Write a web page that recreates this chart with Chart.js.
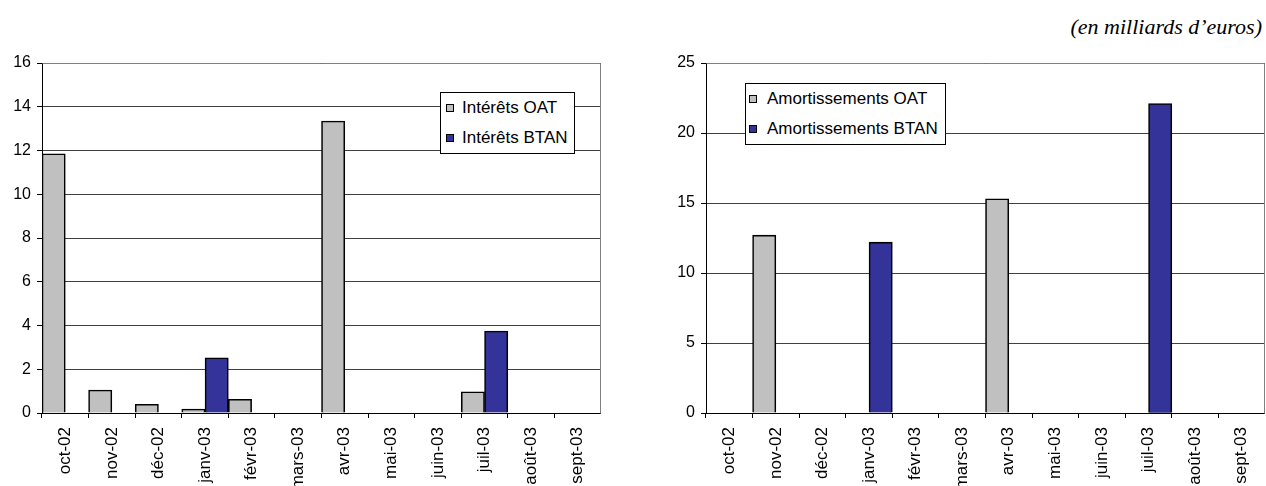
<!DOCTYPE html>
<html lang="fr">
<head>
<meta charset="utf-8">
<script src="https://cdn.jsdelivr.net/npm/chart.js@4/dist/chart.umd.min.js"></script>
<style>
  body { margin: 0; background: #fff; }
  #page { position: relative; width: 1266px; height: 486px; overflow: hidden; background: #fff; }
  .panel { position: absolute; top: 0; }
  .unite {
    position: absolute; right: 4px; top: 14px;
    font: italic 22px "Liberation Serif", "Times New Roman", serif; line-height: 26px;
  }
  .legend {
    position: absolute; box-sizing: border-box; background: #fff; border: 1px solid #000;
    font: 17px "Liberation Sans", Arial, sans-serif; color: #000;
  }
  .legend .item { height: 30px; display: flex; align-items: center; white-space: nowrap; }
  .legend .swatch { display: inline-block; box-sizing: border-box; border: 1px solid #000; }
</style>
</head>
<body>
<div id="page">
  <div class="unite">(en milliards d’euros)</div>
  <div class="panel" style="left:0px"><canvas id="chartInterets" width="601" height="486"></canvas></div>
  <div class="panel" style="left:664px"><canvas id="chartAmort" width="601" height="486"></canvas></div>
  <div id="legendInterets" class="legend" style="left:440px; top:92px; width:135px; height:62px; padding-left:5px"></div>
  <div id="legendAmort" class="legend" style="left:745px; top:83px; width:201px; height:62px; padding-left:3px"></div>
</div>
<script>
const mois = ['oct-02', 'nov-02', 'déc-02', 'janv-03', 'févr-03', 'mars-03', 'avr-03', 'mai-03', 'juin-03', 'juil-03', 'août-03', 'sept-03'];

const interetsOAT  = [11.85, 1.05, 0.4, 0.18, 0.63, null, 13.35, null, null, 0.97, null, null];
const interetsBTAN = [null, null, null, 2.52, null, null, null, null, null, 3.75, null, null];

const amortOAT  = [null, 12.7, null, null, null, null, 15.3, null, null, null, null, null];
const amortBTAN = [null, null, null, 12.2, null, null, null, null, null, 22.1, null, null];

const GRIS = '#c0c0c0';
const BLEU = '#333399';

Chart.defaults.font.family = '"Liberation Sans", Arial, sans-serif';
Chart.defaults.color = '#000';

// cadre gris en haut et a droite de la zone de trace
const cadre = {
    id: 'cadre',
    beforeDatasetsDraw(chart) {
        const { ctx, chartArea: a } = chart;
        ctx.save();
        ctx.strokeStyle = '#808080';
        ctx.lineWidth = 1;
        ctx.beginPath();
        ctx.moveTo(Math.round(a.left) + 0.5, Math.round(a.top) + 0.5);
        ctx.lineTo(Math.round(a.right) - 0.5, Math.round(a.top) + 0.5);
        ctx.lineTo(Math.round(a.right) - 0.5, Math.round(a.bottom) + 0.5);
        ctx.stroke();
        ctx.restore();
    }
};

function createChart(canvasId, labels, series, yMax, yStep) {
    const ctx = document.getElementById(canvasId).getContext('2d');
    return new Chart(ctx, {
        type: 'bar',
        data: {
            labels: labels,
            datasets: series.map(s => ({
                label: s.label, data: s.data,
                backgroundColor: s.color, borderColor: '#000', borderWidth: 1.6,
                categoryPercentage: 1, barPercentage: 1
            }))
        },
        options: {
            responsive: false,
            animation: false,
            layout: { padding: { top: 63, left: 0, right: 0, bottom: 0 } },
            plugins: { legend: { display: false }, tooltip: { enabled: false } },
            scales: {
                x: {
                    offset: true,
                    grid: { offset: true, drawOnChartArea: false, drawTicks: true, tickLength: 5, tickColor: '#000' },
                    border: { color: '#000' },
                    ticks: { autoSkip: false, minRotation: 90, maxRotation: 90, padding: 9, font: { size: 17 } },
                    afterFit: scale => { scale.height = 73; scale.paddingLeft = 0; scale.paddingRight = 0; }
                },
                y: {
                    min: 0, max: yMax,
                    grid: { color: '#404040', tickLength: 5, tickColor: '#000' },
                    border: { color: '#000' },
                    ticks: { stepSize: yStep, padding: 6, font: { size: 16 } },
                    afterFit: scale => { scale.width = 42; }
                }
            }
        },
        plugins: [cadre]
    });
}

function buildLegend(chart, boxId, gap) {
    const box = document.getElementById(boxId);
    chart.data.datasets.forEach(ds => {
        const row = document.createElement('div');
        row.className = 'item';
        const sw = document.createElement('span');
        sw.className = 'swatch';
        sw.style.width = '8px';
        sw.style.height = '8px';
        sw.style.marginRight = gap + 'px';
        sw.style.background = ds.backgroundColor;
        row.appendChild(sw);
        row.appendChild(document.createTextNode(ds.label));
        box.appendChild(row);
    });
}

const chartInterets = createChart('chartInterets', mois, [
    { label: 'Intérêts OAT', data: interetsOAT, color: GRIS },
    { label: 'Intérêts BTAN', data: interetsBTAN, color: BLEU }
], 16, 2);

const chartAmort = createChart('chartAmort', mois, [
    { label: 'Amortissements OAT', data: amortOAT, color: GRIS },
    { label: 'Amortissements BTAN', data: amortBTAN, color: BLEU }
], 25, 5);

buildLegend(chartInterets, 'legendInterets', 8);
buildLegend(chartAmort, 'legendAmort', 10);
</script>
</body>
</html>
